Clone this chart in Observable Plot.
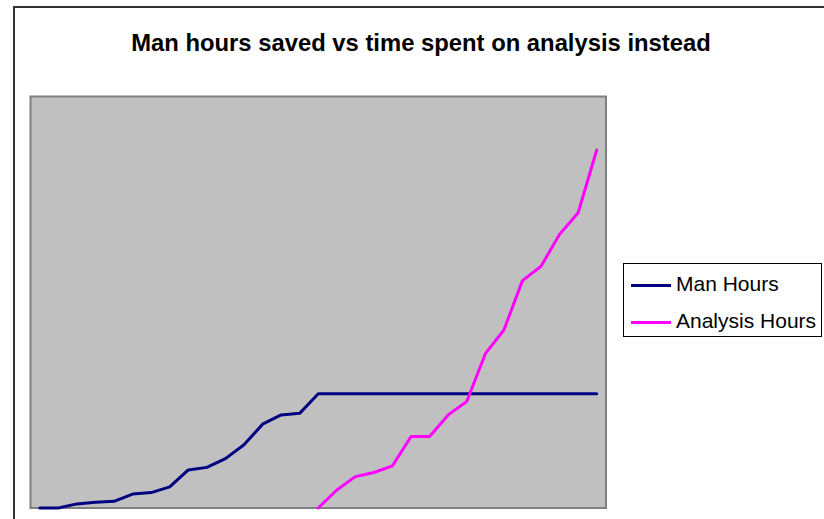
<!DOCTYPE html>
<html>
<head>
<meta charset="utf-8">
<script src="https://cdn.jsdelivr.net/npm/d3@7"></script>
<script src="https://cdn.jsdelivr.net/npm/@observablehq/plot@0.6"></script>
<style>
  html, body { margin: 0; padding: 0; background: #fff; }
  #wrap { position: relative; width: 824px; height: 519px; overflow: hidden; font-family: "Liberation Sans", Arial, sans-serif; }
  #chart { position: absolute; left: 0; top: 0; }
  .bl { position: absolute; left: 13px; top: 6px; width: 2px; height: 520px; background: #333; }
  .bt { position: absolute; left: 13px; top: 6px; width: 820px; height: 2px; background: #333; }
  #title { position: absolute; left: 421px; top: 30.5px; transform: translateX(-50%) scaleX(0.972); white-space: nowrap;
           font-size: 24.5px; line-height: 24.5px; font-weight: bold; color: #000; }
  #legend { position: absolute; left: 622.5px; top: 263px; width: 199px; height: 74px; border: 1px solid #000; background: #fff; box-sizing: border-box; }
  .item { position: absolute; left: 0; height: 21px; font-size: 21px; line-height: 21px; white-space: nowrap; color: #000; }
  .item .sw { position: absolute; left: 7.5px; width: 40px; height: 3px; }
  .item .lb { position: absolute; left: 52.5px; top: 0; }
</style>
</head>
<body>
<div id="wrap">
  <div id="chart"></div>
  <div class="bl"></div>
  <div class="bt"></div>
  <div id="title"></div>
  <div id="legend"></div>
</div>
<script>
const titleText = "Man hours saved vs time spent on analysis instead";
const periods = [1,2,3,4,5,6,7,8,9,10,11,12,13,14,15,16,17,18,19,20,21,22,23,24,25,26,27,28,29,30,31];
const seriesNames = ["Man Hours", "Analysis Hours"];
const seriesColors = ["#000080", "#ff00ff"];
const manHours = [0, 0, 0.4, 0.55, 0.65, 1.35, 1.5, 2.05, 3.7, 3.95, 4.8, 6.15, 8.15, 9.05, 9.2,
  11.1, 11.1, 11.1, 11.1, 11.1, 11.1, 11.1, 11.1, 11.1, 11.1, 11.1, 11.1, 11.1, 11.1, 11.1, 11.1];
const analysisHours = [null, null, null, null, null, null, null, null, null, null, null, null, null, null, null,
  0, 1.75, 3.05, 3.45, 4.1, 6.95, 6.95, 9.05, 10.35, 15.0, 17.3, 22.1, 23.5, 26.6, 28.7, 34.8];

const rows = [];
[manHours, analysisHours].forEach((vals, s) => {
  vals.forEach((v, i) => rows.push({period: periods[i], value: v, series: seriesNames[s]}));
});

const W = 824, H = 519;
const chart = Plot.plot({
  width: W, height: H,
  marginLeft: 30, marginRight: W - 605.5, marginTop: 96, marginBottom: H - 507.5,
  style: {background: "transparent", overflow: "visible"},
  x: {type: "linear", domain: [periods[0] - 0.5, periods[periods.length - 1] + 0.5], axis: null},
  y: {domain: [0, 40], axis: null},
  color: {domain: seriesNames, range: seriesColors},
  marks: [
    Plot.frame({fill: "#c0c0c0", stroke: "#808080", strokeWidth: 2}),
    Plot.line(rows, {x: "period", y: "value", z: "series", stroke: "series", strokeWidth: 3,
      defined: d => d.value != null, strokeLinejoin: "miter", strokeLinecap: "round"})
  ]
});
document.getElementById("chart").appendChild(chart);
document.getElementById("title").textContent = titleText;

const legend = document.getElementById("legend");
const tops = [8.5, 45.8];
seriesNames.forEach((name, i) => {
  const it = document.createElement("div");
  it.className = "item";
  it.style.top = tops[i] + "px";
  const sw = document.createElement("div");
  sw.className = "sw";
  sw.style.background = seriesColors[i];
  sw.style.top = "11px";
  const lb = document.createElement("div");
  lb.className = "lb";
  lb.textContent = name;
  it.appendChild(sw); it.appendChild(lb);
  legend.appendChild(it);
});
</script>
</body>
</html>
